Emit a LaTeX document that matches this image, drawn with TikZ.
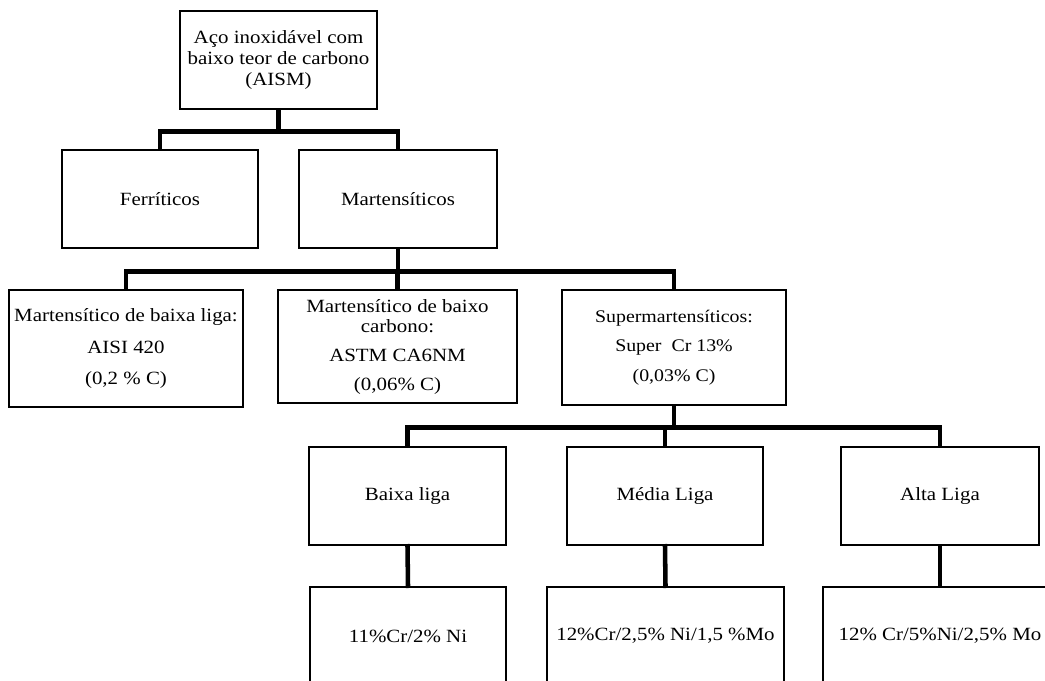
\documentclass[tikz,border=0pt]{standalone}
\usepackage{fontspec}
\setmainfont{Liberation Serif}[FakeStretch=1.12]
\begin{document}
\begin{tikzpicture}[x=0.75pt,y=-0.75pt,
  box/.style={draw=black,line width=1.9pt,fill=white,rectangle,inner sep=0pt,align=center,
    font=\fontsize{14}{15.5}\selectfont},
  conn/.style={draw=black,line width=3.4pt,line cap=rect}]
\useasboundingbox[fill=white] (0,0) rectangle (1045,681);
% boxes
\node[box,minimum width=197*0.75pt,minimum height=98*0.75pt] (top) at (278.5,60)
  {Aço inoxidável com\\baixo teor de carbono\\(AISM)};
\node[box,minimum width=196*0.75pt,minimum height=98*0.75pt] (ferr) at (160,199) {Ferríticos};
\node[box,minimum width=198*0.75pt,minimum height=98*0.75pt] (mart) at (398,199) {Martensíticos};
\node[box,minimum width=234*0.75pt,minimum height=117*0.75pt] (b1) at (126,348.5)
  {Martensítico de baixa liga:\\[8pt]AISI 420\\[8pt](0,2 \% C)};
\node[box,minimum width=239*0.75pt,minimum height=113*0.75pt] (b2) at (397.5,346.5)
  {Martensítico de baixo\\carbono:\\[6pt]ASTM CA6NM\\[6pt](0,06\% C)};
\node[box,minimum width=224*0.75pt,minimum height=115*0.75pt,font=\fontsize{13.3}{15}\selectfont] (b3) at (674,347.5)
  {Supermartensíticos:\\[7pt]Super\ \ Cr 13\%\\[7pt](0,03\% C)};
\node[box,minimum width=197*0.75pt,minimum height=98*0.75pt] (baixa) at (407.5,496) {Baixa liga};
\node[box,minimum width=196*0.75pt,minimum height=98*0.75pt] (media) at (665,496) {Média Liga};
\node[box,minimum width=198*0.75pt,minimum height=98*0.75pt] (alta) at (940,496) {Alta Liga};
\node[box,minimum width=196*0.75pt,minimum height=98*0.75pt] (bot1) at (408,636) {11\%Cr/2\% Ni};
\node[box,minimum width=237*0.75pt,minimum height=98*0.75pt] (bot2) at (665.5,636) {12\%Cr/2,5\% Ni/1,5 \%Mo};
\node[box,minimum width=234*0.75pt,minimum height=98*0.75pt] (bot3) at (940,636) {12\% Cr/5\%Ni/2,5\% Mo};
% connectors
\draw[conn] (top.south) -- ++(0,21) -| (ferr.north);
\draw[conn] (top.south) -- ++(0,21) -| (mart.north);
\draw[conn] (mart.south) -- ++(0,22) -| (b1.north);
\draw[conn] (mart.south) -- ++(0,22) -| (b2.north);
\draw[conn] (mart.south) -- ++(0,22) -| (b3.north);
\draw[conn] (b3.south) -- ++(0,21) -| (baixa.north);
\draw[conn] (b3.south) -- ++(0,21) -| (media.north);
\draw[conn] (b3.south) -- ++(0,21) -| (alta.north);
\draw[conn] (baixa.south) -- (bot1.north);
\draw[conn] (media.south) -- (bot2.north);
\draw[conn] (alta.south) -- (bot3.north);
\end{tikzpicture}
\end{document}
